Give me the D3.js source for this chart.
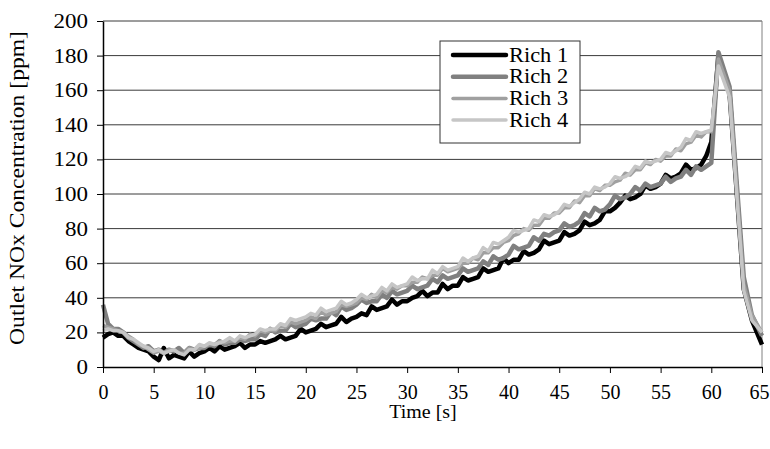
<!DOCTYPE html>
<html>
<head>
<meta charset="utf-8">
<script src="https://cdn.jsdelivr.net/npm/d3@7/dist/d3.min.js"></script>
<style>
    body { margin: 0; background: #fff; }
    svg text { font-family: "Liberation Serif", "Times New Roman", Times, serif; fill: #000; }
</style>
</head>
<body>
<div id="chart"></div>
<script>
// Sample times: one reading every 0.5 s up to 60 s, then the sparser peak points
const sampleTimes = d3.range(0, 60.5, 0.5);
const peakTimes = [60.7, 61.8, 63.2, 64.0, 65.0];
const times = sampleTimes.concat(peakTimes);

// Outlet NOx [ppm], rows of 5 s (10 readings), then t=60 and the peak points
const rich1 = [
    17, 19, 20, 18, 18, 15, 13, 11, 10, 9,
    6, 4, 11, 5, 7, 6, 5, 9, 6, 8,
    9, 11, 9, 12, 10, 11, 12, 14, 11, 13,
    13, 15, 14, 15, 16, 18, 16, 17, 18, 22,
    20, 21, 22, 25, 23, 24, 25, 29, 26, 28,
    29, 31, 30, 35, 33, 34, 35, 39, 36, 38,
    38, 40, 41, 44, 41, 43, 43, 48, 45, 47,
    47, 52, 50, 51, 52, 57, 55, 56, 57, 63,
    60, 62, 62, 67, 65, 66, 68, 73, 71, 72,
    73, 78, 76, 77, 79, 84, 82, 83, 85, 90,
    90, 92, 95, 99, 97, 98, 100, 105, 103, 104,
    106, 111, 109, 110, 112, 117, 114, 115, 117, 122,
    130,
    180, 158, 45, 27, 13
];
const rich2 = [
    36, 25, 22, 22, 20, 17, 15, 13, 11, 12,
    9, 10, 8, 10, 9, 11, 8, 11, 10, 11,
    11, 13, 12, 15, 13, 14, 14, 16, 15, 16,
    16, 19, 18, 22, 20, 21, 21, 25, 23, 24,
    25, 28, 27, 28, 28, 32, 30, 35, 33, 34,
    36, 39, 37, 38, 38, 42, 40, 44, 42, 43,
    44, 47, 45, 46, 47, 51, 49, 53, 51, 52,
    53, 57, 55, 56, 57, 61, 59, 64, 62, 63,
    65, 70, 68, 69, 70, 75, 73, 77, 76, 78,
    79, 83, 81, 82, 84, 89, 87, 92, 90, 91,
    94, 99, 97, 98, 100, 104, 102, 106, 104, 105,
    106, 110, 107, 109, 110, 114, 111, 116, 114, 116,
    118,
    182, 162, 52, 30, 18
];
const rich3 = [
    24, 23, 22, 21, 20, 18, 16, 13, 12, 10,
    8, 9, 8, 10, 10, 8, 8, 11, 10, 11,
    12, 13, 13, 15, 14, 15, 15, 17, 16, 19,
    18, 21, 20, 21, 21, 24, 23, 26, 25, 26,
    27, 29, 28, 32, 30, 31, 32, 36, 35, 36,
    37, 40, 39, 42, 40, 44, 43, 46, 45, 47,
    47, 49, 49, 52, 51, 53, 53, 57, 55, 56,
    57, 60, 60, 63, 62, 66, 66, 69, 69, 72,
    73, 76, 77, 80, 79, 82, 82, 86, 86, 89,
    89, 92, 92, 96, 95, 99, 99, 103, 102, 105,
    105, 107, 108, 112, 111, 114, 114, 118, 117, 120,
    119, 122, 122, 126, 125, 129, 130, 134, 133, 136,
    136,
    178, 160, 48, 30, 20
];
const rich4 = [
    21, 22, 21, 21, 20, 17, 16, 14, 12, 11,
    9, 10, 8, 9, 10, 8, 7, 10, 10, 13,
    12, 14, 13, 14, 15, 17, 15, 18, 17, 18,
    19, 22, 21, 22, 22, 25, 24, 28, 27, 28,
    29, 31, 30, 34, 32, 33, 34, 38, 36, 37,
    39, 42, 40, 41, 42, 46, 44, 48, 46, 47,
    48, 52, 50, 51, 51, 56, 54, 58, 56, 57,
    58, 63, 61, 63, 64, 69, 67, 72, 71, 73,
    75, 79, 78, 79, 80, 85, 84, 88, 87, 88,
    90, 94, 93, 95, 97, 101, 100, 104, 103, 104,
    106, 110, 109, 110, 112, 116, 115, 119, 118, 119,
    120, 124, 123, 125, 127, 132, 131, 136, 135, 136,
    137,
    174, 156, 44, 27, 20
];

const seriesNames = ['Rich 1', 'Rich 2', 'Rich 3', 'Rich 4'];
const seriesValues = [rich1, rich2, rich3, rich4];
const seriesColors = ['#000000', '#808080', '#a0a0a0', '#c6c6c6'];
const seriesWidths = [4.5, 4.5, 3.5, 3.5];

const xTicks = d3.range(0, 70, 5);
const yTicks = d3.range(0, 220, 20);

const margin = {top: 21, right: 8, bottom: 82, left: 103};
const width = 770 - margin.left - margin.right;
const height = 449 - margin.top - margin.bottom;

const svg = d3.select('#chart').append('svg')
    .attr('width', 770)
    .attr('height', 449);

const g = svg.append('g')
    .attr('transform', `translate(${margin.left},${margin.top})`);

const x = d3.scaleLinear().domain([0, 65]).range([0, width]);
const y = d3.scaleLinear().domain([0, 200]).range([height, 0]);

// stretch a text to a wider run, the way the original figure prints
function widen(sel, factor) {
    sel.each(function() {
        const w = this.getComputedTextLength();
        d3.select(this)
            .attr('textLength', w * factor)
            .attr('lengthAdjust', 'spacingAndGlyphs');
    });
}

// Gridlines
g.selectAll('.grid')
    .data(yTicks.filter(d => d > 0))
    .enter().append('line')
    .attr('class', 'grid')
    .attr('x1', 0)
    .attr('x2', width)
    .attr('y1', d => y(d))
    .attr('y2', d => y(d))
    .attr('stroke', '#3a3a3a')
    .attr('stroke-width', 1);

// Right border of plot area
g.append('line')
    .attr('x1', width)
    .attr('x2', width)
    .attr('y1', 0)
    .attr('y2', height)
    .attr('stroke', '#808080');

// Series lines, Rich 1 at the bottom
const line = d3.line()
    .x((d, i) => x(times[i]))
    .y(d => y(d));

g.selectAll('.series')
    .data(seriesValues)
    .enter().append('path')
    .attr('class', 'series')
    .attr('d', d => line(d))
    .attr('fill', 'none')
    .attr('stroke', (d, i) => seriesColors[i])
    .attr('stroke-width', (d, i) => seriesWidths[i])
    .attr('stroke-linejoin', 'round');

// Add axes
const xAxis = g.append('g')
    .attr('transform', `translate(0,${height})`)
    .call(d3.axisBottom(x).tickValues(xTicks).tickSize(6).tickSizeOuter(0).tickPadding(12));

const yAxis = g.append('g')
    .call(d3.axisLeft(y).tickValues(yTicks).tickSize(6).tickSizeOuter(0).tickPadding(9));

[xAxis, yAxis].forEach(ax => {
    ax.attr('font-family', null).attr('font-size', null);
    ax.select('.domain').attr('stroke', '#000').attr('stroke-width', 1.5);
    ax.selectAll('.tick line').attr('stroke', '#000');
    ax.selectAll('.tick text')
        .style('font-size', '20px')
        .attr('fill', '#000');
});
widen(yAxis.selectAll('.tick text'), 1.15);
xAxis.selectAll('.tick text').filter(d => d === 65).attr('dx', '-0.15em');

// Axis titles
svg.append('text')
    .attr('x', 423)
    .attr('y', 418)
    .attr('text-anchor', 'middle')
    .style('font-size', '19px')
    .text('Time [s]')
    .call(widen, 1.05);

svg.append('text')
    .attr('transform', 'translate(24,188) rotate(-90)')
    .attr('text-anchor', 'middle')
    .style('font-size', '20px')
    .text('Outlet NOx Concentration [ppm]')
    .call(widen, 1.18);

// Legend
const legend = svg.append('g')
    .attr('transform', 'translate(440,41)');

legend.append('rect')
    .attr('width', 140)
    .attr('height', 102)
    .attr('fill', '#fff')
    .attr('stroke', '#333')
    .attr('stroke-width', 1);

const rows = legend.selectAll('.row')
    .data(seriesNames)
    .enter().append('g')
    .attr('class', 'row')
    .attr('transform', (d, i) => `translate(0,${14 + i * 21.7})`);

rows.append('line')
    .attr('x1', 13)
    .attr('x2', 66)
    .attr('stroke', (d, i) => seriesColors[i])
    .attr('stroke-width', (d, i) => seriesWidths[i])
    .attr('stroke-linecap', 'round');

rows.append('text')
    .attr('x', 69)
    .attr('dy', '0.33em')
    .style('font-size', '20px')
    .text(d => d)
    .call(widen, 1.12);
</script>
</body>
</html>
